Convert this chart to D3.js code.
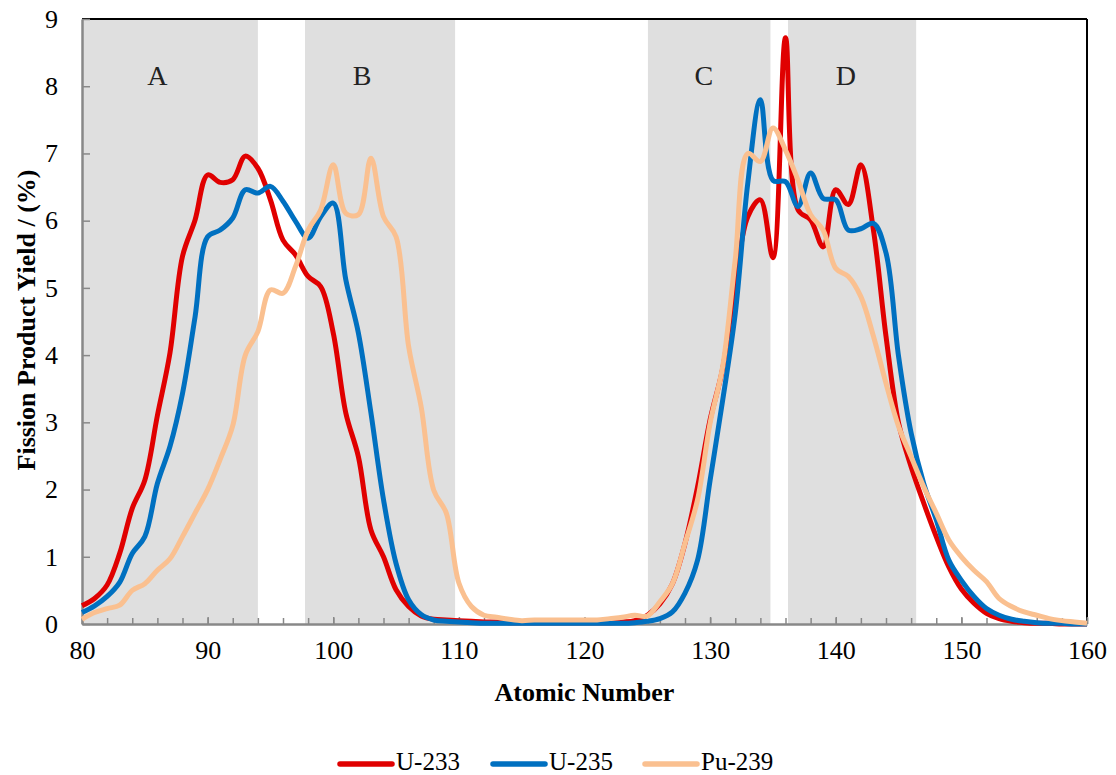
<!DOCTYPE html>
<html>
<head>
<meta charset="utf-8">
<script src="https://cdn.jsdelivr.net/npm/d3@7"></script>
<style>
  body { margin: 0; background: #fff; }
  text { font-family: "Liberation Serif", "Times New Roman", serif; }
</style>
</head>
<body>
<svg width="1116" height="775"></svg>
<script>
// Data: yields (%) at each atomic number 80..160
const firstZ = 80;
const u233 = [0.27, 0.38, 0.58, 1.05, 1.72, 2.14, 3.1, 4.03, 5.47, 6.01,
  6.68, 6.57, 6.61, 6.96, 6.78, 6.31, 5.71, 5.49, 5.17, 5.02,
  4.33, 3.14, 2.49, 1.4, 1.0, 0.51, 0.26, 0.12, 0.07, 0.06,
  0.05, 0.04, 0.03, 0.03, 0.02, 0.02, 0.02, 0.02, 0.02, 0.02,
  0.02, 0.02, 0.02, 0.03, 0.05, 0.13, 0.3, 0.6, 1.2, 2.04,
  3.04, 3.8, 5.07, 6.06, 6.31, 5.45, 8.72, 6.16, 6.01, 5.61,
  6.46, 6.24, 6.83, 5.86, 4.28, 2.99, 2.34, 1.8, 1.3, 0.85,
  0.52, 0.31, 0.16, 0.08, 0.04, 0.02, 0.01, 0.01, 0, 0, 0];
const u235 = [0.17, 0.27, 0.41, 0.62, 1.05, 1.3, 2.09, 2.64, 3.43, 4.57,
  5.76, 5.86, 6.04, 6.46, 6.41, 6.51, 6.29, 5.99, 5.74, 6.06,
  6.26, 5.12, 4.33, 3.14, 1.85, 0.9, 0.36, 0.14, 0.06, 0.04,
  0.03, 0.02, 0.01, 0.01, 0.01, 0.01, 0.01, 0.01, 0.01, 0.01,
  0.01, 0.01, 0.01, 0.01, 0.02, 0.04, 0.08, 0.18, 0.46, 0.95,
  2.14, 3.33, 4.62, 6.56, 7.8, 6.6, 6.58, 6.21, 6.71, 6.33,
  6.31, 5.86, 5.88, 5.96, 5.52, 3.98, 2.84, 2.09, 1.55, 0.95,
  0.65, 0.41, 0.23, 0.13, 0.07, 0.04, 0.02, 0.01, 0.01, 0, 0];
const pu239 = [0.07, 0.17, 0.23, 0.28, 0.5, 0.6, 0.8, 0.97, 1.3, 1.65,
  2.0, 2.45, 2.95, 4.0, 4.35, 4.97, 4.92, 5.32, 5.86, 6.16,
  6.83, 6.11, 6.09, 6.93, 6.06, 5.76, 4.13, 3.23, 1.99, 1.65,
  0.61, 0.26, 0.13, 0.1, 0.07, 0.05, 0.06, 0.06, 0.06, 0.06,
  0.06, 0.06, 0.08, 0.1, 0.13, 0.12, 0.33, 0.6, 1.2, 1.85,
  2.99, 3.83, 5.42, 7.0, 6.88, 7.38, 7.05, 6.6, 6.09, 5.86,
  5.29, 5.17, 4.87, 4.28, 3.58, 2.94, 2.49, 2.04, 1.65, 1.25,
  1.0, 0.8, 0.63, 0.38, 0.26, 0.18, 0.13, 0.08, 0.05, 0.03, 0.01];

const seriesNames = ["U-233", "U-235", "Pu-239"];
const seriesColors = ["#e00000", "#0070c0", "#fac090"];

// shaded regions (atomic number ranges) and their labels
const regionNames = ["A", "B", "C", "D"];
const regionStart = [80, 97.75, 125.05, 136.2];
const regionEnd = [94, 109.7, 134.8, 146.4];
const regionLabelAt = [86, 102.3, 129.5, 140.8];

const xTicks = [80, 90, 100, 110, 120, 130, 140, 150, 160];
const yTicks = [0, 1, 2, 3, 4, 5, 6, 7, 8, 9];

const margin = { top: 19, right: 29, bottom: 151, left: 82 },
  width = 1116 - margin.left - margin.right,
  height = 775 - margin.top - margin.bottom;

const svg = d3.select("svg");
const g = svg.append("g")
  .attr("transform", `translate(${margin.left},${margin.top})`);

const x = d3.scaleLinear().domain([80, 160]).range([0, width]);
const y = d3.scaleLinear().domain([0, 9]).range([height, 0]);

// regions
g.selectAll(".region")
  .data(regionNames)
  .enter().append("rect")
  .attr("x", (d, i) => x(regionStart[i]))
  .attr("width", (d, i) => x(regionEnd[i]) - x(regionStart[i]))
  .attr("y", 0)
  .attr("height", height)
  .attr("fill", "#dfdfdf");

g.selectAll(".rlabel")
  .data(regionNames)
  .enter().append("text")
  .attr("x", (d, i) => x(regionLabelAt[i]))
  .attr("y", 66)
  .attr("text-anchor", "middle")
  .style("font-size", "28px")
  .attr("fill", "#222")
  .text(d => d);

// frame (top and right in black)
g.append("line").attr("x1", 0).attr("x2", width).attr("y1", 0).attr("y2", 0)
  .attr("stroke", "#000").attr("stroke-width", 2);
g.append("line").attr("x1", width).attr("x2", width).attr("y1", 0).attr("y2", height)
  .attr("stroke", "#000").attr("stroke-width", 2);

// minor x ticks every 2
g.append("g")
  .attr("transform", `translate(0,${height})`)
  .call(d3.axisBottom(x).tickValues(d3.range(80, 161, 2)).tickSize(-6).tickFormat(""))
  .call(a => a.select(".domain").remove())
  .selectAll("line").attr("stroke", "#888").attr("stroke-width", 1.5);

const xAxis = g.append("g")
  .attr("transform", `translate(0,${height})`)
  .call(d3.axisBottom(x).tickValues(xTicks).tickSizeInner(-7).tickSizeOuter(0).tickPadding(17));
xAxis.select(".domain").attr("stroke", "#888").attr("stroke-width", 2.5);
xAxis.selectAll("line").attr("stroke", "#888").attr("stroke-width", 1.5);
xAxis.selectAll("text").style("font-size", "26px").attr("fill", "#000")
  .style("font-family", "Liberation Serif");

const yAxis = g.append("g")
  .call(d3.axisLeft(y).tickValues(yTicks).tickSizeInner(-8).tickSizeOuter(0).tickPadding(24));
yAxis.select(".domain").attr("stroke", "#888").attr("stroke-width", 2.5);
yAxis.selectAll("line").attr("stroke", "#888").attr("stroke-width", 1.5);
yAxis.selectAll("text").style("font-size", "26px").attr("fill", "#000")
  .style("font-family", "Liberation Serif");

// lines (red at the bottom, Pu-239 on top)
const seriesData = [u233, u235, pu239];
const line = d3.line()
  .x((d, i) => x(firstZ + i))
  .y(d => y(d))
  .curve(d3.curveCatmullRom.alpha(0.5));

g.selectAll(".series")
  .data(seriesData)
  .enter().append("path")
  .attr("class", "series")
  .attr("fill", "none")
  .attr("stroke", (d, i) => seriesColors[i])
  .attr("stroke-width", 5)
  .attr("stroke-linejoin", "round")
  .attr("d", line);

// axis titles
svg.append("text")
  .attr("x", margin.left + width / 2)
  .attr("y", 701)
  .attr("text-anchor", "middle")
  .style("font-size", "26px").style("font-weight", "bold")
  .text("Atomic Number");

svg.append("text")
  .attr("transform", "translate(35,320) rotate(-90)")
  .attr("text-anchor", "middle")
  .style("font-size", "26px").style("font-weight", "bold")
  .text("Fission Product Yield / (%)");

// legend
const legendLineX = [340, 493, 645];
const legend = svg.append("g");
seriesNames.forEach((name, i) => {
  legend.append("line")
    .attr("x1", legendLineX[i]).attr("x2", legendLineX[i] + 52)
    .attr("y1", 764).attr("y2", 764)
    .attr("stroke", seriesColors[i]).attr("stroke-width", 5.5)
    .attr("stroke-linecap", "round");
  legend.append("text")
    .attr("x", legendLineX[i] + 56).attr("y", 770)
    .style("font-size", "25px")
    .text(name);
});
</script>
</body>
</html>
